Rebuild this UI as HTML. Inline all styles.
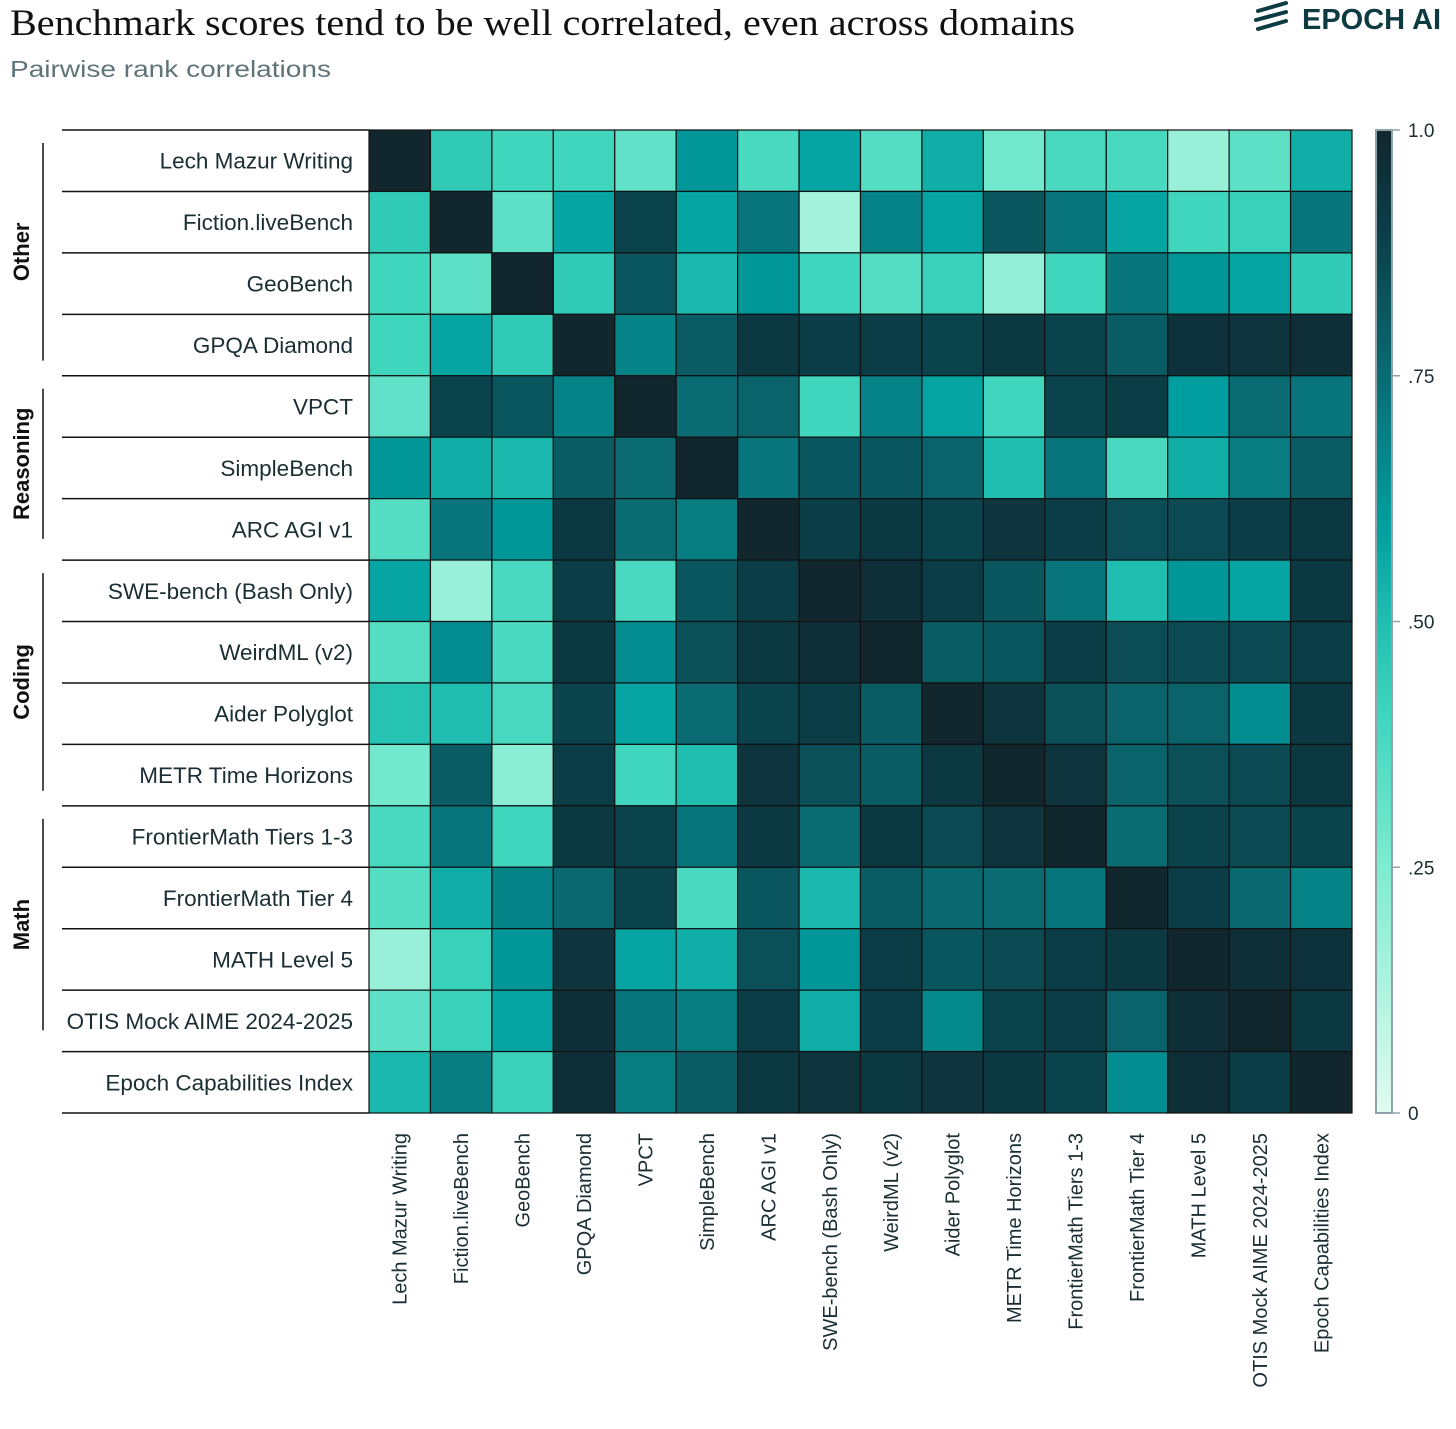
<!DOCTYPE html>
<html><head><meta charset="utf-8">
<style>
html,body{margin:0;padding:0;background:#fff;width:1456px;height:1429px;overflow:hidden}
svg{display:block}
</style></head>
<body>
<svg id="chart" width="1456" height="1429" xmlns="http://www.w3.org/2000/svg">
  <text x="10" y="35" font-family="Liberation Serif, serif" font-size="37" fill="#111" textLength="1065" lengthAdjust="spacingAndGlyphs">Benchmark scores tend to be well correlated, even across domains</text>
  <text x="10" y="77" font-family="Liberation Sans, sans-serif" font-size="23" fill="#5f7479" textLength="321" lengthAdjust="spacingAndGlyphs">Pairwise rank correlations</text>
  <g fill="#0e3a42">
    <g stroke="#0e3a42" stroke-width="4" stroke-linecap="round">
      <line x1="1258" y1="11" x2="1286" y2="3"/>
      <line x1="1256" y1="20" x2="1286" y2="12"/>
      <line x1="1258" y1="29" x2="1286" y2="21"/>
    </g>
    <text x="1302" y="29" font-family="Liberation Sans, sans-serif" font-size="29" font-weight="bold" fill="#0e3a42">EPOCH AI</text>
  </g>
  <g id="grid"></g>
</svg>
<script>
const labels = ["Lech Mazur Writing","Fiction.liveBench","GeoBench","GPQA Diamond","VPCT","SimpleBench","ARC AGI v1","SWE-bench (Bash Only)","WeirdML (v2)","Aider Polyglot","METR Time Horizons","FrontierMath Tiers 1-3","FrontierMath Tier 4","MATH Level 5","OTIS Mock AIME 2024-2025","Epoch Capabilities Index"];
const groups = ["Other","Reasoning","Coding","Math"];
const groupStart = [0,4,7,11];
const groupEnd = [3.95,6.85,10.95,14.85];
const colorTicks = [0,0.25,0.5,0.75,1.0];
const colorTickLabels = ["0",".25",".50",".75","1.0"];
const matrix = [
[1.0,.45,.40,.40,.32,.62,.38,.58,.35,.55,.28,.38,.38,.18,.33,.55],
[.45,1.0,.33,.58,.88,.58,.72,.15,.68,.58,.82,.72,.58,.40,.42,.72],
[.40,.33,1.0,.45,.82,.52,.62,.40,.35,.42,.20,.40,.72,.62,.58,.45],
[.40,.58,.45,1.0,.68,.80,.92,.90,.90,.88,.92,.88,.80,.95,.94,.96],
[.32,.88,.82,.68,1.0,.75,.78,.40,.68,.58,.40,.88,.90,.60,.75,.72],
[.62,.55,.52,.80,.75,1.0,.72,.82,.82,.78,.50,.72,.38,.55,.70,.80],
[.35,.72,.62,.92,.75,.70,1.0,.90,.92,.88,.94,.90,.85,.86,.90,.92],
[.58,.18,.38,.90,.38,.82,.90,1.0,.96,.90,.82,.72,.50,.62,.58,.92],
[.35,.65,.38,.92,.65,.84,.92,.96,1.0,.80,.82,.90,.85,.86,.86,.90],
[.48,.50,.38,.88,.58,.75,.88,.90,.80,1.0,.94,.84,.78,.78,.65,.92],
[.28,.80,.22,.90,.40,.50,.94,.84,.80,.92,1.0,.94,.78,.84,.86,.92],
[.38,.72,.40,.92,.88,.72,.92,.75,.92,.86,.94,1.0,.75,.88,.86,.88],
[.35,.55,.68,.76,.88,.38,.82,.52,.80,.76,.75,.72,1.0,.90,.76,.68],
[.18,.42,.62,.94,.58,.55,.84,.62,.90,.82,.86,.90,.92,1.0,.96,.95],
[.33,.42,.58,.96,.72,.70,.90,.55,.90,.66,.88,.90,.78,.96,1.0,.92],
[.52,.70,.42,.96,.70,.80,.92,.94,.92,.94,.92,.88,.65,.96,.90,1.0]
];
const stops=[[0,[224,251,240]],[0.25,[126,236,208]],[0.4,[64,214,190]],[0.5,[32,190,176]],[0.6,[0,158,158]],[0.75,[10,107,115]],[0.9,[11,61,71]],[1,[18,38,46]]];
function color(v){v=Math.max(0,Math.min(1,v));for(let i=1;i<stops.length;i++){if(v<=stops[i][0]){const a=stops[i-1],b=stops[i];const t=(v-a[0])/(b[0]-a[0]);const c=a[1].map((x,k)=>Math.round(x+(b[1][k]-x)*t));return `rgb(${c[0]},${c[1]},${c[2]})`;}}return 'rgb(18,38,46)';}
const X0=369,Y0=130,W=983,H=983,n=labels.length,cw=W/n,ch=H/n;
const xs=i=>X0+i*cw, ys=i=>Y0+i*ch;
const ns="http://www.w3.org/2000/svg";
const g=document.getElementById('grid');
function mk(tag,attrs,parent){const e=document.createElementNS(ns,tag);for(const k in attrs)e.setAttribute(k,attrs[k]);(parent||g).appendChild(e);return e;}
const font="Liberation Sans, sans-serif";
for(let i=0;i<=n;i++){mk('line',{x1:62,x2:X0,y1:ys(i),y2:ys(i),stroke:'#111','stroke-width':1.5});}
for(let r=0;r<n;r++){
  const t=mk('text',{x:353,y:ys(r)+ch/2+8,'text-anchor':'end','font-family':font,'font-size':22.5,fill:'#1a2e33'});
  t.textContent=labels[r];
  
  
  for(let c=0;c<n;c++){
    const rc=mk('rect',{x:xs(c),y:ys(r),width:cw,height:ch,fill:color(matrix[r][c]),stroke:'#111','stroke-width':1.2});
    
    
  }
}
for(let c=0;c<n;c++){
  const cx=xs(c)+cw/2+7,cy=1133;
  const t=mk('text',{x:cx,y:cy,'text-anchor':'end','font-family':font,'font-size':20,fill:'#1a2e33',transform:`rotate(-90 ${cx} ${cy})`});
  t.textContent=labels[c];
  
  
}
groups.forEach((name,i)=>{
  const a=ys(groupStart[i])+13,b=ys(groupEnd[i])-12;
  const l=mk('line',{x1:43,x2:43,y1:a,y2:b,stroke:'#111','stroke-width':1.5});
  
  
  const my=(a+b)/2;
  const t=mk('text',{x:29,y:my,'text-anchor':'middle','font-family':font,'font-size':22,'font-weight':'bold',fill:'#111',transform:`rotate(-90 29 ${my})`});
  t.textContent=name;
  
  
});
const defs=mk('defs',{});
const lg=mk('linearGradient',{id:'cb',x1:0,y1:1,x2:0,y2:0},defs);
stops.forEach(s=>mk('stop',{offset:s[0],'stop-color':color(s[0])},lg));
const cb=mk('rect',{x:1376,y:Y0,width:16,height:H,fill:'url(#cb)',stroke:'#8fa3a8','stroke-width':2});


colorTicks.forEach((v,i)=>{
  const y=Y0+H*(1-v);
  mk('line',{x1:1392,x2:1400,y1:y,y2:y,stroke:'#8fa3a8','stroke-width':1.5});
  const t=mk('text',{x:1408,y:y+7,'font-family':font,'font-size':19,fill:'#1a2e33'});
  t.textContent=colorTickLabels[i];
  
  
});
</script>
</body></html>
